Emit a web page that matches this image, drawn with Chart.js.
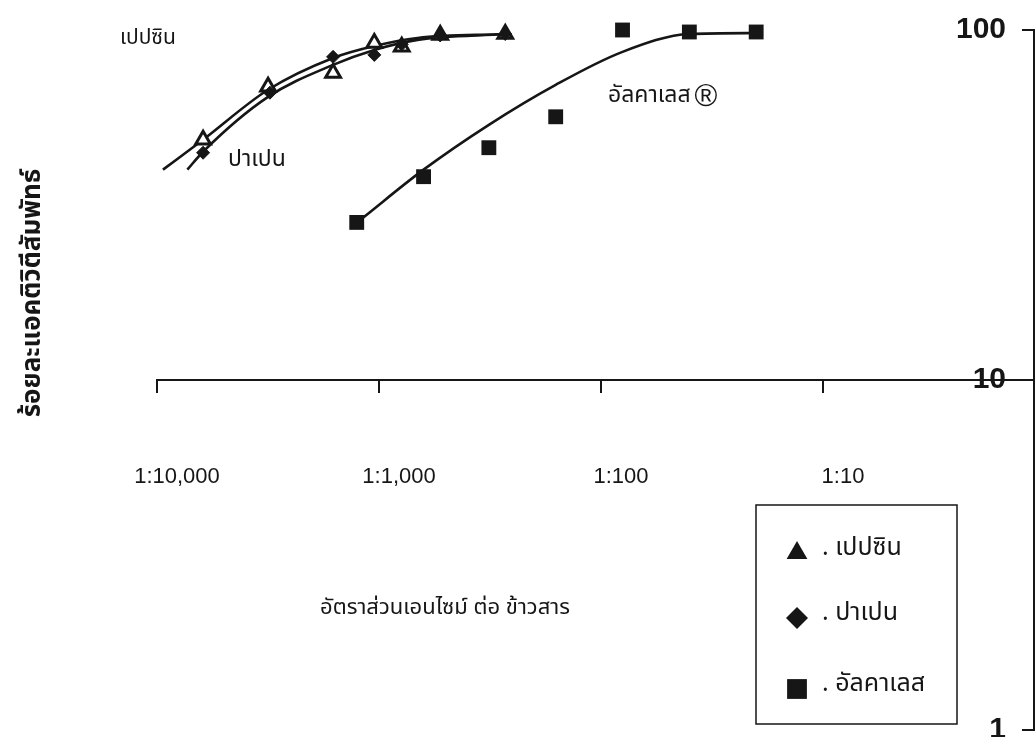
<!DOCTYPE html>
<html>
<head>
<meta charset="utf-8">
<script src="https://cdn.jsdelivr.net/npm/chart.js@4.4.0/dist/chart.umd.min.js"></script>
<style>
  html, body { margin: 0; padding: 0; background: #fff; }
  #wrap { width: 1036px; height: 737px; }
</style>
</head>
<body>
<div id="wrap"><canvas id="activity-chart" width="1036" height="737"></canvas></div>
<script>
// enzyme : rice ratio, stored as the N of "1:N"
const pepsinRatio = [6200, 3160, 1610, 1050, 790, 530, 270];
const pepsinActivity = [48.6, 68.8, 75.4, 91.8, 89.5, 96.8, 97.4];

const papainRatio = [6200, 3100, 1610, 1050, 790, 530, 270];
const papainActivity = [44.6, 66.2, 83.8, 84.9, 91.0, 96.5, 97.4];

const alcalaseRatio = [1260, 630, 320, 160, 80, 40, 20];
const alcalaseActivity = [28.2, 38.1, 46.1, 56.5, 100, 98.7, 98.7];

// the hand-fitted curves
const pepsinFitRatio = [9400, 6200, 3160, 1610, 1050, 670, 270];
const pepsinFit = [39.9, 48.6, 67.5, 83.2, 90.0, 94.9, 97.4];
const papainFitRatio = [7300, 6200, 3160, 1610, 1050, 670, 270];
const papainFit = [39.9, 44.9, 64.4, 79.5, 87.7, 93.7, 97.4];
const alcalaseFitRatio = [1180, 630, 320, 160, 80, 40, 20];
const alcalaseFit = [29.1, 39.9, 53.6, 69.7, 86.6, 97.4, 98.0];

const seriesNames = ['เปปซิน', 'ปาเปน', 'อัลคาเลส'];
const xTickRatios = [10000, 1000, 100, 10];
const xTickLabels = ['1:10,000', '1:1,000', '1:100', '1:10'];
const yTicks = [1, 10, 100];

const ink = '#161616';
const numFont = "'Liberation Sans', Arial, sans-serif";
const thaiFont = "'Noto Sans Thai', 'Noto Sans', 'DejaVu Sans', sans-serif";

function pairs(ratios, values) {
  return ratios.map((r, i) => ({ x: 1 / r, y: values[i] }));
}

function curve(ratios, values) {
  return {
    data: pairs(ratios, values),
    showLine: true,
    borderColor: ink,
    borderWidth: 2.6,
    pointRadius: 0,
    cubicInterpolationMode: 'monotone',
    clip: false,
    order: 2,
  };
}

// scales should not steal room from the plot, the layout padding places it
function noRoom(s) {
  if (s.isHorizontal()) s.height = 0; else s.width = 0;
  s.paddingTop = s.paddingBottom = s.paddingLeft = s.paddingRight = 0;
}

// labels, titles and the boxed legend
const notes = {
  id: 'notes',
  afterDraw(chart) {
    const { ctx, chartArea: area, scales: { y } } = chart;
    ctx.save();
    ctx.fillStyle = ink;
    ctx.strokeStyle = ink;

    // short inward ticks on the right axis
    ctx.lineWidth = 2;
    yTicks.forEach(v => {
      const py = y.getPixelForValue(v);
      ctx.beginPath();
      ctx.moveTo(area.right, py);
      ctx.lineTo(area.right - 12, py);
      ctx.stroke();
    });

    ctx.textBaseline = 'middle';
    ctx.textAlign = 'left';
    ctx.font = '21px ' + thaiFont;
    ctx.fillText(seriesNames[0], 120, 40);
    ctx.font = '23px ' + thaiFont;
    ctx.fillText(seriesNames[1], 228, 161);
    ctx.font = '23px ' + thaiFont;
    ctx.fillText(seriesNames[2], 608, 97);
    const w = ctx.measureText(seriesNames[2] + ' ').width;
    ctx.font = '31px ' + numFont;
    ctx.fillText('\u00AE', 606 + w, 97);

    ctx.textAlign = 'center';
    ctx.font = '22px ' + thaiFont;
    ctx.fillText('อัตราส่วนเอนไซม์ ต่อ ข้าวสาร', 445, 610);

    ctx.save();
    ctx.translate(35, 293);
    ctx.rotate(-Math.PI / 2);
    ctx.font = 'bold 26px ' + thaiFont;
    ctx.fillText('ร้อยละแอคติวิตีสัมพัทธ์', 0, 0);
    ctx.restore();

    // legend box
    ctx.lineWidth = 1.5;
    ctx.strokeRect(756, 505, 201, 219);
    const rows = [
      { style: 'triangle', r: 12, y: 553 },
      { style: 'rectRot', r: 11, y: 618 },
      { style: 'rect', r: 14, y: 689 },
    ];
    ctx.textAlign = 'left';
    ctx.font = '25px ' + thaiFont;
    rows.forEach((row, i) => {
      Chart.helpers.drawPoint(ctx, { pointStyle: row.style, radius: row.r, rotation: 0, borderWidth: 0 }, 797, row.y);
      ctx.fillText('. ' + seriesNames[i], 822, row.y - 3);
    });
    ctx.restore();
  }
};

const config = {
  type: 'scatter',
  data: {
    datasets: [
      {
        label: seriesNames[1],
        data: pairs(papainRatio, papainActivity),
        pointStyle: 'rectRot',
        pointRadius: 6.5,
        backgroundColor: ink,
        borderColor: ink,
        borderWidth: 1,
        clip: false,
        order: 0,
      },
      {
        label: seriesNames[0],
        data: pairs(pepsinRatio, pepsinActivity),
        pointStyle: 'triangle',
        pointRadius: 8.5,
        backgroundColor: '#fff',
        borderColor: ink,
        borderWidth: 3,
        clip: false,
        order: 1,
      },
      {
        label: seriesNames[2],
        data: pairs(alcalaseRatio, alcalaseActivity),
        pointStyle: 'rect',
        pointRadius: 10.5,
        backgroundColor: ink,
        borderColor: ink,
        borderWidth: 0,
        clip: false,
        order: 0,
      },
      curve(pepsinFitRatio, pepsinFit),
      curve(papainFitRatio, papainFit),
      curve(alcalaseFitRatio, alcalaseFit),
    ]
  },
  options: {
    responsive: false,
    animation: false,
    devicePixelRatio: 1,
    layout: { autoPadding: false, padding: { left: 157, right: 2, top: 30, bottom: 7 } },
    plugins: { legend: { display: false }, tooltip: { enabled: false } },
    scales: {
      x: {
        type: 'logarithmic',
        min: 1e-4,
        max: 0.892,
        position: { y: 10 },
        afterFit: noRoom,
        afterBuildTicks: s => { s.ticks = xTickRatios.map(r => ({ value: 1 / r })); },
        ticks: {
          callback: (v, i) => xTickLabels[i],
          autoSkip: false,
          maxRotation: 0,
          padding: 72,
          labelOffset: 20,
          color: ink,
          font: { family: numFont, size: 22 },
        },
        grid: { drawOnChartArea: false, drawTicks: true, tickLength: 12, color: ink, lineWidth: 2 },
        border: { display: true, color: ink, width: 2 },
      },
      y: {
        type: 'logarithmic',
        min: 1,
        max: 100,
        position: 'right',
        afterFit: noRoom,
        afterBuildTicks: s => { s.ticks = yTicks.map(v => ({ value: v })); },
        ticks: {
          mirror: true,
          padding: -28,
          callback: v => String(v),
          color: ink,
          font: { family: numFont, size: 30, weight: 'bold' },
        },
        grid: { drawOnChartArea: false, drawTicks: false },
        border: { display: true, color: ink, width: 2 },
      },
    },
  },
  plugins: [notes],
};

const ctx = document.getElementById('activity-chart').getContext('2d');
const chart = new Chart(ctx, config);
</script>
</body>
</html>
